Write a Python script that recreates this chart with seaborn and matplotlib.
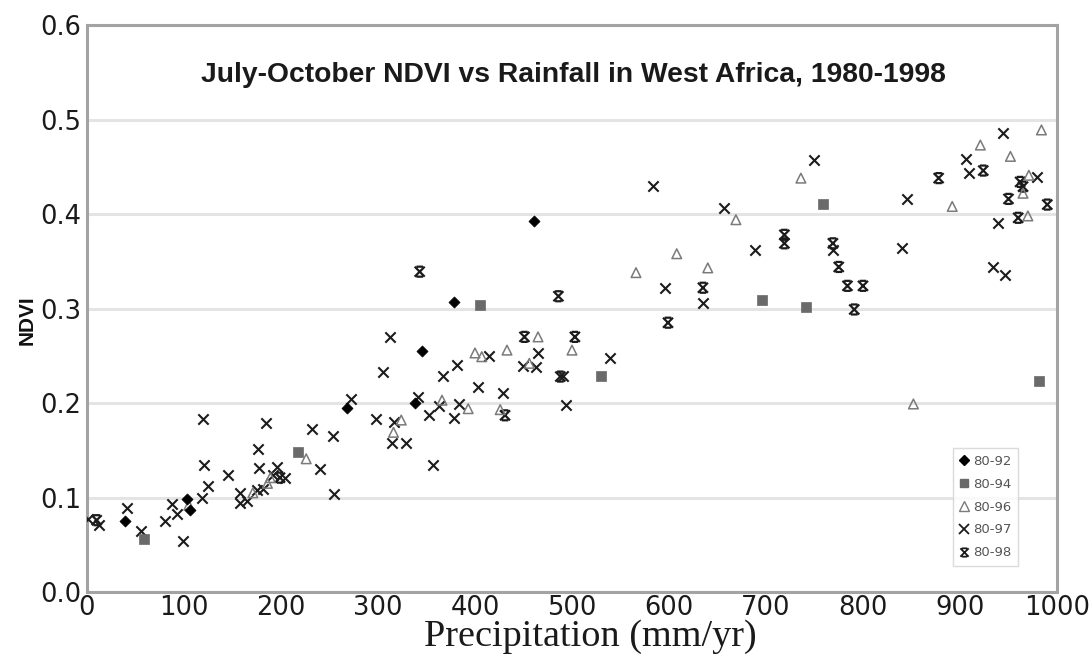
import numpy as np
import pandas as pd
import matplotlib
matplotlib.use("Agg")
import matplotlib.pyplot as plt
import seaborn as sns
from matplotlib.path import Path
from matplotlib.lines import Line2D

# July-October mean NDVI against annual rainfall, grouped by averaging period
p80_92_x = [39, 103, 106, 268, 338, 345, 378, 461]
p80_92_y = [0.075, 0.098, 0.087, 0.195, 0.200, 0.255, 0.307, 0.393]

p80_94_x = [59, 218, 405, 530, 696, 741, 759, 981]
p80_94_y = [0.056, 0.148, 0.304, 0.229, 0.309, 0.302, 0.411, 0.223]

p80_96_x = [105, 171, 186, 189, 226, 316, 324, 366, 393, 400, 407, 426, 433,
            456, 465, 500, 566, 608, 640, 669, 736, 852, 892, 921, 952, 965,
            970, 971, 984]
p80_96_y = [0.092, 0.105, 0.115, 0.121, 0.141, 0.169, 0.182, 0.203, 0.194,
            0.253, 0.249, 0.193, 0.256, 0.242, 0.270, 0.256, 0.338, 0.358,
            0.343, 0.394, 0.438, 0.199, 0.408, 0.473, 0.461, 0.422, 0.398,
            0.441, 0.489]

p80_97_x = [1, 12, 41, 56, 80, 88, 93, 99, 119, 120, 121, 125, 145, 158, 158,
            165, 175, 181, 192, 204, 176, 177, 185, 196, 232, 240, 254, 255,
            272, 298, 305, 312, 314, 317, 329, 341, 353, 357, 363, 367, 378,
            381, 384, 403, 414, 429, 449, 463, 465, 491, 494, 539, 584, 596,
            635, 657, 689, 749, 769, 840, 845, 906, 909, 934, 939, 944, 946,
            979]
p80_97_y = [0.077, 0.071, 0.089, 0.065, 0.075, 0.093, 0.083, 0.054, 0.099,
            0.183, 0.134, 0.112, 0.124, 0.105, 0.094, 0.096, 0.108, 0.109,
            0.124, 0.121, 0.151, 0.131, 0.179, 0.132, 0.172, 0.130, 0.165,
            0.104, 0.204, 0.183, 0.233, 0.270, 0.158, 0.180, 0.158, 0.206,
            0.187, 0.134, 0.197, 0.229, 0.184, 0.240, 0.199, 0.217, 0.250,
            0.211, 0.239, 0.238, 0.253, 0.229, 0.198, 0.248, 0.430, 0.322,
            0.306, 0.406, 0.362, 0.457, 0.362, 0.364, 0.416, 0.458, 0.443,
            0.344, 0.390, 0.486, 0.335, 0.439]

p80_98_x = [10, 199, 343, 431, 451, 486, 488, 503, 599, 635, 719, 719, 769,
            775, 784, 800, 791, 878, 924, 950, 960, 962, 965, 990]
p80_98_y = [0.076, 0.121, 0.339, 0.187, 0.270, 0.313, 0.228, 0.270, 0.285,
            0.322, 0.378, 0.369, 0.369, 0.344, 0.324, 0.324, 0.299, 0.438,
            0.446, 0.416, 0.396, 0.434, 0.429, 0.410]

period_labels = ["80-92", "80-94", "80-96", "80-97", "80-98"]
x_ticks = list(range(0, 1001, 100))
y_ticks = [0.0, 0.1, 0.2, 0.3, 0.4, 0.5, 0.6]

# an "x" closed with short bars at top and bottom
bar_x = Path(
    [(-1, -1), (1, 1), (-1, 1), (1, -1), (-0.65, 1), (0.65, 1),
     (-0.65, -1), (0.65, -1)],
    [Path.MOVETO, Path.LINETO, Path.MOVETO, Path.LINETO,
     Path.MOVETO, Path.LINETO, Path.MOVETO, Path.LINETO],
)

sns.set_theme(style="white")
plt.rcParams["font.family"] = ["DejaVu Sans"]

fig = plt.figure(figsize=(10.9, 6.57), dpi=100)
ax = fig.add_axes([0.0798, 0.0989, 0.8899, 0.8630])

ink = "#1c1c1c"

def frame(xs, ys):
    return pd.DataFrame({"precip": xs, "ndvi": ys})

sns.scatterplot(data=frame(p80_97_x, p80_97_y), x="precip", y="ndvi", ax=ax,
                marker="x", s=55, color=ink, linewidth=1.5, zorder=3)
sns.scatterplot(data=frame(p80_98_x, p80_98_y), x="precip", y="ndvi", ax=ax,
                marker=bar_x, s=52, color=ink, edgecolor=ink, linewidth=1.6,
                zorder=3)
ax.collections[-1].set_facecolor("none")
sns.scatterplot(data=frame(p80_96_x, p80_96_y), x="precip", y="ndvi", ax=ax,
                marker="^", s=48, color="#7a7a7a", edgecolor="#7a7a7a",
                linewidth=1.1, zorder=3)
ax.collections[-1].set_facecolor("none")
sns.scatterplot(data=frame(p80_94_x, p80_94_y), x="precip", y="ndvi", ax=ax,
                marker="s", s=42, color="#6a6a6a", edgecolor="#6a6a6a",
                linewidth=0.5, zorder=4)
sns.scatterplot(data=frame(p80_92_x, p80_92_y), x="precip", y="ndvi", ax=ax,
                marker="D", s=32, color="#000000", edgecolor="#000000",
                linewidth=0.5, zorder=4)

ax.set_xlim(0, 1000)
ax.set_ylim(0, 0.6)
ax.set_xticks(x_ticks)
ax.set_yticks(y_ticks)
ax.set_yticklabels([f"{v:.1f}" for v in y_ticks])
ax.tick_params(axis="both", length=0, labelsize=18.5, colors="#1a1a1a")
ax.tick_params(axis="x", pad=2)
ax.tick_params(axis="y", pad=4)

ax.yaxis.grid(True, color="#e4e4e4", linewidth=2.2, zorder=0)
ax.xaxis.grid(False)
ax.set_axisbelow(True)
for sp in ax.spines.values():
    sp.set_visible(True)
    sp.set_color("#a3a3a3")
    sp.set_linewidth(2.2)

ax.set_xlabel("Precipitation (mm/yr)", family="Liberation Serif",
              fontsize=27.5, color="#1a1a1a")
ax.xaxis.set_label_coords(0.519, -0.049)
ax.set_ylabel("NDVI", family="Liberation Sans", fontweight="bold",
              fontsize=15, color="#111111")
ax.yaxis.set_label_coords(-0.052, 0.48)

ax.text(0.501, 0.912, "July-October NDVI vs Rainfall in West Africa, 1980-1998",
        transform=ax.transAxes, ha="center", va="center",
        family="Liberation Sans", fontweight="bold", fontsize=20.3,
        color="#1a1a1a")

handles = [
    Line2D([], [], linestyle="none", marker="D", markersize=5,
           color="#000000"),
    Line2D([], [], linestyle="none", marker="s", markersize=6,
           color="#6a6a6a"),
    Line2D([], [], linestyle="none", marker="^", markersize=6.5,
           markerfacecolor="none", markeredgecolor="#7a7a7a",
           markeredgewidth=1.0),
    Line2D([], [], linestyle="none", marker="x", markersize=6.5,
           color=ink, markeredgewidth=1.3),
    Line2D([], [], linestyle="none", marker=bar_x, markersize=6,
           markerfacecolor="none", markeredgecolor=ink, markeredgewidth=1.3),
]
leg = ax.legend(handles, period_labels, loc="lower left",
                bbox_to_anchor=(0.893, 0.046), frameon=True, fancybox=False,
                fontsize=9.5, labelspacing=0.75, handlelength=0.7,
                handletextpad=0.3, borderpad=0.5, borderaxespad=0)
leg.get_frame().set_edgecolor("#d2d2d2")
leg.get_frame().set_linewidth(1.0)
for t in leg.get_texts():
    t.set_color("#555555")

fig.savefig("out.png", dpi=100)
